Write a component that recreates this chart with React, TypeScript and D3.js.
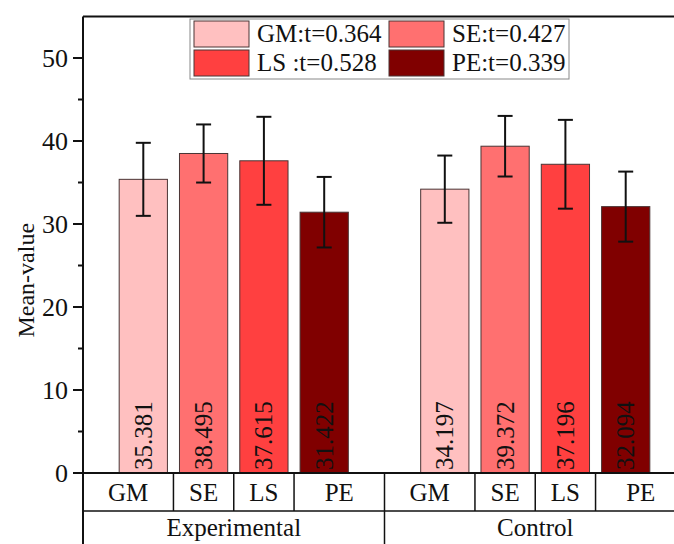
import React from "react";
import * as d3 from "d3";

const categories = ["GM", "SE", "LS", "PE"];
const groups = ["Experimental", "Control"];
const experimentalMeans = [35.381, 38.495, 37.615, 31.422];
const controlMeans = [34.197, 39.372, 37.196, 32.094];
const experimentalSD = [4.4, 3.5, 5.3, 4.25];
const controlSD = [4.05, 3.65, 5.35, 4.22];
const legendLabels = ["GM:t=0.364", "SE:t=0.427", "LS :t=0.528", "PE:t=0.339"];
const yTicks = [0, 10, 20, 30, 40, 50];
const yMinorTicks = [5, 15, 25, 35, 45];
const colors = ["#FFC0C0", "#FF7070", "#FF4040", "#800000"];
// table cell boundaries within one group (in category units)
const cellEdges = [0, 1.5, 2.5, 3.5, 5];

const W = 674;
const H = 544;
const FONT = "'Liberation Serif', 'Times New Roman', serif";

export default function App() {
  const x = d3.scaleLinear().domain([0, 10]).range([83, 686]);
  const y = d3.scaleLinear().domain([0, 55]).range([473, 16.5]);
  const bw = x(0.8) - x(0);
  const capW = 7.5;

  const series = [experimentalMeans, controlMeans];
  const sds = [experimentalSD, controlSD];

  const bars: any[] = [];
  series.forEach((vals, g) => {
    vals.forEach((v, i) => {
      const pos = g * 5 + i + 1;
      bars.push({ pos, v, sd: sds[g][i], c: colors[i], key: `${g}-${i}` });
    });
  });

  const rowTop = y(0);
  const rowMid = 511;
  const rowBot = 560;

  return (
    <svg
      width={W}
      height={H}
      style={{ position: "absolute", left: 0, top: 0, background: "#fff" }}
      fontFamily={FONT}
    >
      <defs>
        <clipPath id="clip">
          <rect x={0} y={0} width={W} height={H} />
        </clipPath>
      </defs>
      <g clipPath="url(#clip)">
        {/* bars */}
        {bars.map((b) => (
          <rect
            key={"b" + b.key}
            x={x(b.pos) - bw / 2}
            y={y(b.v)}
            width={bw}
            height={y(0) - y(b.v)}
            fill={b.c}
            stroke="#4a3535"
            strokeWidth={1}
          />
        ))}
        {/* error bars */}
        {bars.map((b) => {
          const cx = x(b.pos);
          const t = y(b.v + b.sd);
          const bt = y(b.v - b.sd);
          return (
            <g key={"e" + b.key} stroke="#111" strokeWidth={2}>
              <line x1={cx} x2={cx} y1={t} y2={bt} />
              <line x1={cx - capW} x2={cx + capW} y1={t} y2={t} />
              <line x1={cx - capW} x2={cx + capW} y1={bt} y2={bt} />
            </g>
          );
        })}
        {/* value labels */}
        {bars.map((b) => (
          <text
            key={"t" + b.key}
            transform={`translate(${x(b.pos) + 8.5},${y(0) - 3}) rotate(-90)`}
            fontSize={25}
            fill="#111"
          >
            {b.v.toFixed(3)}
          </text>
        ))}

        {/* frame: top line */}
        <line x1={x(0)} x2={W} y1={y(55)} y2={y(55)} stroke="#111" strokeWidth={2} />
        {/* y axis line */}
        <line x1={x(0)} x2={x(0)} y1={y(55)} y2={H} stroke="#111" strokeWidth={2} />
        {/* x axis line */}
        <line x1={x(0)} x2={W} y1={rowTop} y2={rowTop} stroke="#111" strokeWidth={2} />
        {/* table middle line */}
        <line x1={x(0)} x2={W} y1={rowMid} y2={rowMid} stroke="#111" strokeWidth={1.5} />

        {/* y ticks */}
        {yTicks.map((t) => (
          <g key={"yt" + t}>
            <line x1={x(0) - 10} x2={x(0)} y1={y(t)} y2={y(t)} stroke="#111" strokeWidth={2} />
            <text x={x(0) - 15} y={y(t)} dy="0.35em" textAnchor="end" fontSize={26} fill="#111">
              {t}
            </text>
          </g>
        ))}
        {yMinorTicks.map((t) => (
          <line key={"ym" + t} x1={x(0) - 5} x2={x(0)} y1={y(t)} y2={y(t)} stroke="#111" strokeWidth={2} />
        ))}

        {/* y axis title */}
        <text
          transform={`translate(34,${(y(55) + H) / 2}) rotate(-90)`}
          textAnchor="middle"
          fontSize={24}
          fill="#111"
        >
          Mean-value
        </text>

        {/* table */}
        {groups.map((gName, g) => {
          const off = g * 5;
          return (
            <g key={"grp" + g}>
              {cellEdges.slice(1, -1).map((e) => (
                <line
                  key={"ce" + e}
                  x1={x(off + e)}
                  x2={x(off + e)}
                  y1={rowTop}
                  y2={rowMid}
                  stroke="#111"
                  strokeWidth={1.5}
                />
              ))}
              <line x1={x(off + 5)} x2={x(off + 5)} y1={rowTop} y2={rowBot} stroke="#111" strokeWidth={1.5} />
              {categories.map((c, i) => (
                <text
                  key={"cl" + c}
                  x={x(off + (cellEdges[i] + cellEdges[i + 1]) / 2)}
                  y={501}
                  textAnchor="middle"
                  fontSize={25}
                  fill="#111"
                >
                  {c}
                </text>
              ))}
              <text x={x(off + 2.5)} y={536} textAnchor="middle" fontSize={25} fill="#111">
                {gName}
              </text>
            </g>
          );
        })}

        {/* legend */}
        <g>
          <rect x={190} y={19} width={379} height={60} fill="#fff" stroke="#888" strokeWidth={1} />
          {legendLabels.map((l, i) => {
            const col = i % 2;
            const row = Math.floor(i / 2);
            const sx = col === 0 ? 194 : 389;
            const sy = row === 0 ? 21 : 50;
            return (
              <g key={"lg" + i}>
                <rect x={sx} y={sy} width={55} height={26} fill={colors[i]} stroke="#4a3535" strokeWidth={1} />
                <text x={sx + 63} y={sy + 21} fontSize={25} fill="#111">
                  {l}
                </text>
              </g>
            );
          })}
        </g>
      </g>
    </svg>
  );
}
